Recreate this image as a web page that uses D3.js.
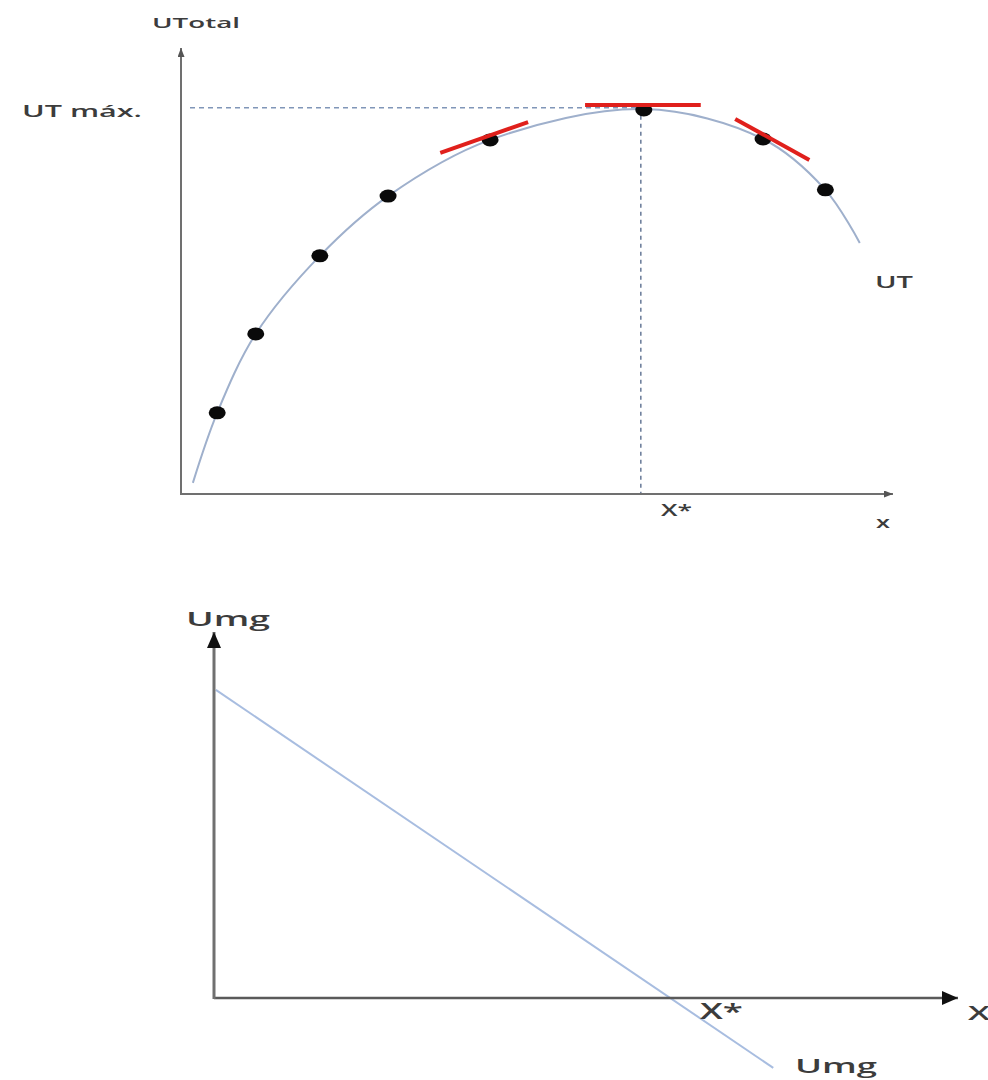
<!DOCTYPE html>
<html><head><meta charset="utf-8">
<script src="https://cdn.jsdelivr.net/npm/d3@7/dist/d3.min.js"></script>
<style>body{margin:0;background:#fff}svg{display:block}</style>
</head><body>
<svg id="c" width="988" height="1080"></svg>
<script>
// ---- data ----
const utDots = [
  {x:0.61,y:18.2},{x:1.26,y:35.9},{x:2.34,y:53.4},{x:3.49,y:66.8},
  {x:5.21,y:79.4},{x:7.80,y:86.1},{x:9.81,y:79.6},{x:10.86,y:68.2}
];
const utCurve = [
  {x:0.20,y:2.5},{x:0.61,y:18.2},{x:1.26,y:35.9},{x:2.34,y:53.4},{x:3.49,y:66.8},
  {x:5.21,y:79.4},{x:7.80,y:86.3},{x:9.81,y:79.6},{x:10.86,y:68.2},{x:11.44,y:56.3}
];
const tangents = [
  {x1:4.37,y1:76.5,x2:5.85,y2:83.4},
  {x1:6.81,y1:87.2,x2:8.76,y2:87.2},
  {x1:9.34,y1:84.1,x2:10.59,y2:74.9}
];
const xStar = 7.75;
const utMax = 86.6;
const umgLine = [{x:0.03,y:85.1},{x:9.02,y:-19.3}];
const axisMax = {x:12, y:100};

const svg = d3.select("#c");
const defs = svg.append("defs");
function marker(id, w, h, col){
  defs.append("marker").attr("id",id).attr("viewBox",`0 0 ${w} ${h}`)
    .attr("refX",w).attr("refY",h/2).attr("markerWidth",w).attr("markerHeight",h)
    .attr("markerUnits","userSpaceOnUse").attr("orient","auto")
    .append("path").attr("d",`M0,0L${w},${h/2}L0,${h}Z`).attr("fill",col);
}
marker("aSmall",9,7,"#555");
marker("aBig",16,14,"#111");

function label(t, x, y, size, w, extra){
  const e = svg.append("text").attr("x",x).attr("y",y).text(t)
    .attr("font-family","'Open Sans', sans-serif").attr("font-weight",600)
    .attr("font-size",size).attr("fill","#3c3c3c")
    .attr("textLength",w).attr("lengthAdjust","spacingAndGlyphs");
  return e;
}

// ---- top chart ----
const xT = d3.scaleLinear([0,12],[181,893]);
const yT = d3.scaleLinear([0,100],[494,48]);

// dashed guides
svg.append("line").attr("x1",xT(0)+9).attr("x2",xT(xStar)).attr("y1",yT(utMax)).attr("y2",yT(utMax))
  .attr("stroke","#8096b8").attr("stroke-width",1.4).attr("stroke-dasharray","5,4");
svg.append("line").attr("x1",xT(xStar)).attr("x2",xT(xStar)).attr("y1",yT(utMax)).attr("y2",yT(0))
  .attr("stroke","#5c7090").attr("stroke-width",1.4).attr("stroke-dasharray","4,4");

// axes
svg.append("line").attr("x1",xT(0)).attr("y1",yT(0)).attr("x2",xT(axisMax.x)).attr("y2",yT(0))
  .attr("stroke","#707070").attr("stroke-width",2).attr("marker-end","url(#aSmall)");
svg.append("line").attr("x1",xT(0)).attr("y1",yT(0)+1).attr("x2",xT(0)).attr("y2",yT(axisMax.y))
  .attr("stroke","#707070").attr("stroke-width",2).attr("marker-end","url(#aSmall)");

// curve
svg.append("path").datum(utCurve)
  .attr("d",d3.line().x(d=>xT(d.x)).y(d=>yT(d.y)).curve(d3.curveCatmullRom.alpha(0.5)))
  .attr("fill","none").attr("stroke","#9fb0cc").attr("stroke-width",2);

// dots
svg.selectAll(".dot").data(utDots).join("ellipse").attr("class","dot")
  .attr("cx",d=>xT(d.x)).attr("cy",d=>yT(d.y)).attr("rx",8.5).attr("ry",6.5).attr("fill","#0a0a0a");

// tangents
svg.selectAll(".tan").data(tangents).join("line").attr("class","tan")
  .attr("x1",d=>xT(d.x1)).attr("y1",d=>yT(d.y1)).attr("x2",d=>xT(d.x2)).attr("y2",d=>yT(d.y2))
  .attr("stroke","#e0201c").attr("stroke-width",4);

label("UTotal",152,28,15,88);
label("UT máx.",22,117,16,120);
label("UT",875,288,16,38);
label("X*",661,516,16,31);
label("x",876,528,16,14);

// ---- bottom chart ----
const xB = d3.scaleLinear([0,12],[214,958]);
const yB = d3.scaleLinear([0,100],[998,636]);

svg.append("path").datum(umgLine)
  .attr("d",d3.line().x(d=>xB(d.x)).y(d=>yB(d.y)))
  .attr("fill","none").attr("stroke","#a8bde0").attr("stroke-width",2);

svg.append("line").attr("x1",xB(0)).attr("y1",yB(0)).attr("x2",xB(axisMax.x)).attr("y2",yB(0))
  .attr("stroke","#5a5a5a").attr("stroke-width",2.4).attr("marker-end","url(#aBig)");
svg.append("line").attr("x1",xB(0)).attr("y1",yB(0)+1).attr("x2",xB(0)).attr("y2",yB(axisMax.y)-4)
  .attr("stroke","#707070").attr("stroke-width",3).attr("marker-end","url(#aBig)");

label("Umg",186,626,20,84);
label("X*",700,1019,21,43);
label("X",968,1020,19,22);
label("Umg",795,1073,20,82);
</script>
</body></html>
